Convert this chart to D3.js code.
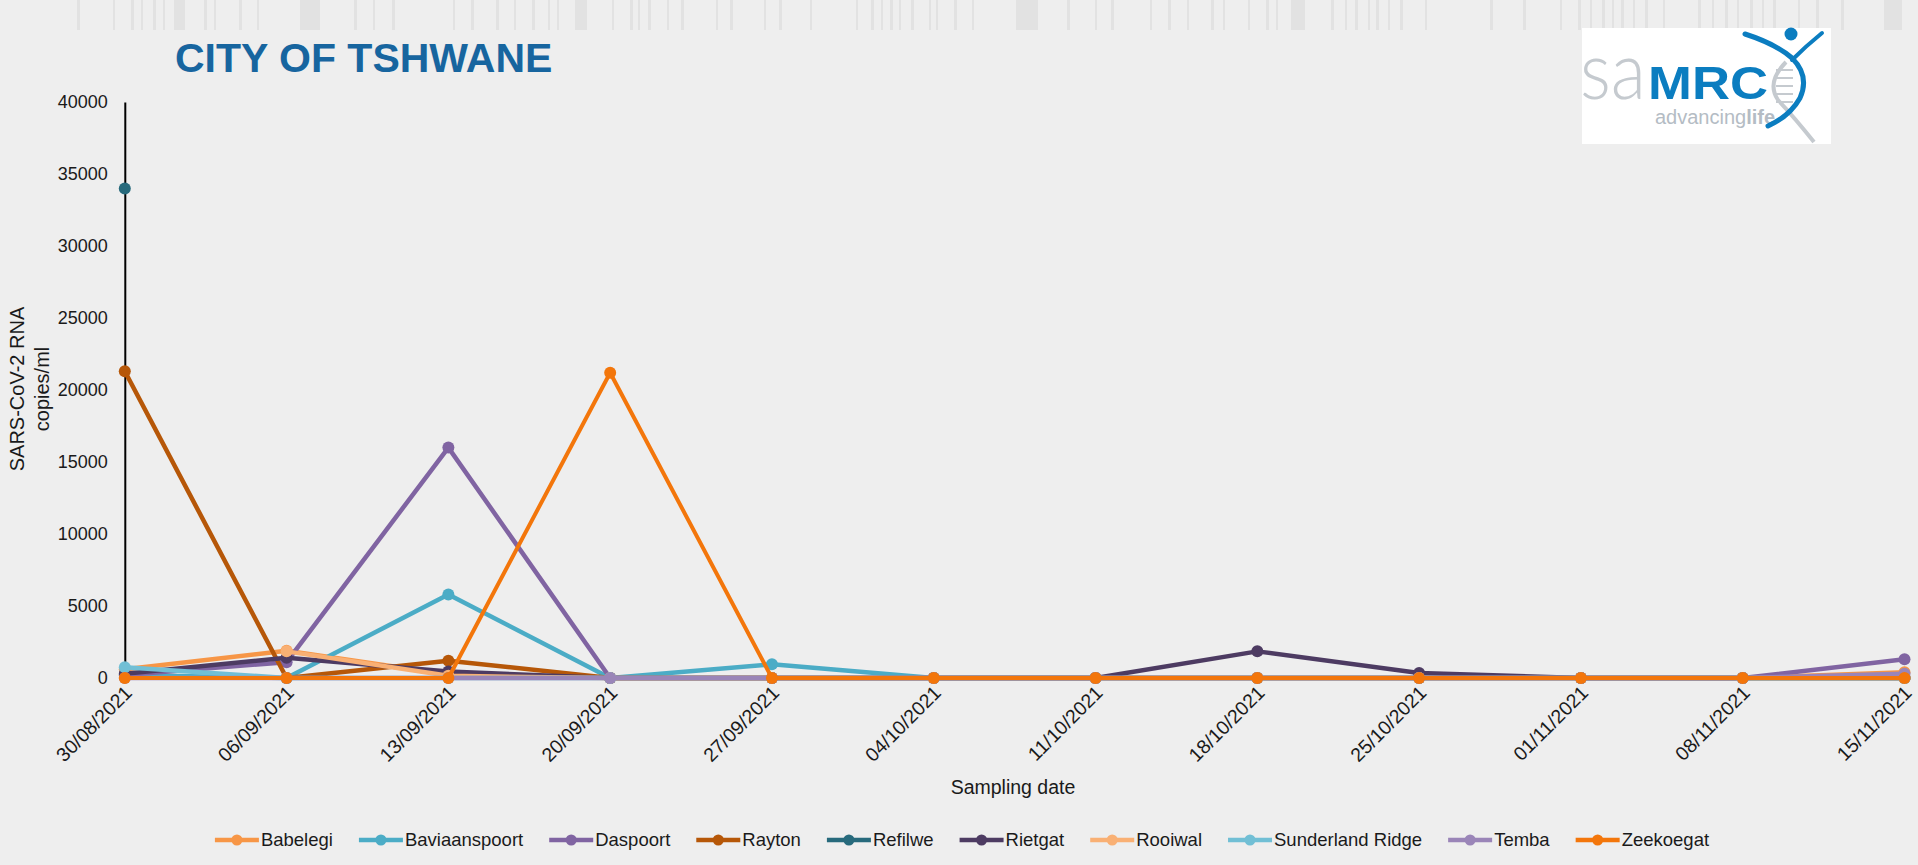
<!DOCTYPE html>
<html>
<head>
<meta charset="utf-8">
<script src="https://cdn.jsdelivr.net/npm/d3@7/dist/d3.min.js"></script>
<style>
  html, body { margin: 0; padding: 0; background: #eeeeee; }
  svg { display: block; font-family: "Liberation Sans", Arial, sans-serif; }
</style>
</head>
<body>
<svg id="chart" width="1918" height="865"></svg>
<script>
// ---------- DATA ----------
const dates = ["30/08/2021","06/09/2021","13/09/2021","20/09/2021","27/09/2021","04/10/2021",
               "11/10/2021","18/10/2021","25/10/2021","01/11/2021","08/11/2021","15/11/2021"];
const yTicks = [0, 5000, 10000, 15000, 20000, 25000, 30000, 35000, 40000];

const seriesNames = ["Babelegi","Baviaanspoort","Daspoort","Rayton","Refilwe","Rietgat",
                     "Rooiwal","Sunderland Ridge","Temba","Zeekoegat"];
const seriesColors = ["#f79646","#4bacc6","#8064a2","#b65708","#276a7c","#4d3b62",
                      "#f9b074","#71bfd5","#9a85b8","#f3760b"];

const babelegi      = [600, 1900, 250, 0, 0, 0, 0, 0, 0, 0, 0, 400];
const baviaanspoort = [200, 0, 5800, 0, 950, 0, 0, 0, 0, 0, 0, 0];
const daspoort      = [200, 1100, 16000, 0, 0, 0, 0, 0, 0, 0, 0, 1300];
const rayton        = [21300, 0, 1200, 0, 0, 0, 0, 0, 0, 0, 0, 0];
const refilwe       = [34000, null, null, null, null, null, null, null, null, null, null, null];
const rietgat       = [300, 1400, 450, 0, 0, 0, 0, 1850, 350, 0, 0, 0];
const rooiwal       = [null, 1850, 150, 0, 0, 0, 0, 0, 0, 0, 0, 0];
const sunderland    = [750, 0, 0, 0, 0, 0, 0, 0, 0, 0, 0, 0];
const temba         = [0, 0, 0, 0, 0, 0, 0, 0, 0, 0, 0, 300];
const zeekoegat     = [0, 0, 0, 21200, 0, 0, 0, 0, 0, 0, 0, 0];

const seriesValues = [babelegi, baviaanspoort, daspoort, rayton, refilwe, rietgat,
                      rooiwal, sunderland, temba, zeekoegat];

// decorative barcode strip at top (x, width)
const decorStripes = [[77,3],[113,2],[131,3],[141,2],[153,3],[163,2],[174,11],[204,3],[214,2],[239,3],[257,2],
  [300,20],[354,3],[373,2],[392,3],[453,2],[471,3],[496,3],[514,2],[532,3],[548,2],[557,2],[575,12],[612,2],[630,3],
  [638,2],[648,3],[667,2],[681,3],[716,2],[730,3],[764,2],[779,3],[810,2],[856,2],[871,3],[881,2],[890,3],[899,2],
  [911,3],[929,2],[936,2],[954,3],[972,2],[1016,22],[1067,3],[1095,2],[1111,3],[1150,2],[1168,3],[1187,2],[1211,3],
  [1223,2],[1248,2],[1266,3],[1276,2],[1291,14],[1331,3],[1345,2],[1355,3],[1368,2],[1376,3],[1388,2],[1400,3],
  [1425,2],[1490,3],[1523,3],[1560,2],[1578,3],[1590,2],[1602,3],[1612,2],[1621,3],[1633,2],[1645,3],[1663,2],
  [1698,3],[1712,2],[1725,3],[1737,2],[1750,3],[1762,2],[1773,3],[1798,2],[1816,3],[1841,3],[1884,18]];

// ---------- LAYOUT ----------
const W = 1918, H = 865;
const plot = { left: 124.8, right: 1904.5, top: 102, bottom: 678 };
const svg = d3.select("#chart");

svg.append("rect").attr("width", W).attr("height", H).attr("fill", "#eeeeee");

svg.append("g").selectAll("rect").data(decorStripes).join("rect")
  .attr("x", d => d[0]).attr("y", 0).attr("width", d => d[1]).attr("height", 30)
  .attr("fill", "#e2e2e2");

// title
svg.append("text").attr("x", 175).attr("y", 72)
  .attr("font-size", 41).attr("font-weight", "bold").attr("fill", "#17659f")
  .text("CITY OF TSHWANE");

// logo
const logo = svg.append("g");
logo.append("rect").attr("x", 1582).attr("y", 28).attr("width", 249).attr("height", 116).attr("fill", "#ffffff");
logo.append("text").attr("x", 1580).attr("y", 99).attr("font-family", "Lato").attr("font-weight", 300)
  .attr("font-size", 80).attr("fill", "#c5cacf").attr("textLength", 66).attr("lengthAdjust", "spacingAndGlyphs").text("sa");
logo.append("text").attr("x", 1648).attr("y", 99).attr("font-family", "Liberation Sans").attr("font-weight", "bold")
  .attr("font-size", 46).attr("fill", "#0b7dc0").attr("textLength", 120).attr("lengthAdjust", "spacingAndGlyphs").text("MRC");
logo.append("text").attr("x", 1655).attr("y", 124).attr("font-family", "Liberation Sans")
  .attr("font-size", 20).attr("fill", "#b4bcc4").text("advancing")
  .append("tspan").attr("font-weight", "bold").text("life");
// DNA figure
logo.append("path").attr("d", "M1786,62 Q1766,82 1778,100 Q1795,118 1814,142")
  .attr("fill", "none").attr("stroke", "#c5cacf").attr("stroke-width", 4);
[70, 78, 86, 94, 102].forEach(yy => {
  logo.append("line").attr("x1", 1776).attr("x2", 1793).attr("y1", yy).attr("y2", yy)
    .attr("stroke", "#c5cacf").attr("stroke-width", 2);
});
logo.append("path").attr("d", "M1745,34 Q1776,44 1792,58 Q1810,76 1800,98 Q1790,116 1768,126")
  .attr("fill", "none").attr("stroke", "#0b7dc0").attr("stroke-width", 5).attr("stroke-linecap", "round");
logo.append("path").attr("d", "M1822,33 Q1806,46 1792,60")
  .attr("fill", "none").attr("stroke", "#0b7dc0").attr("stroke-width", 4).attr("stroke-linecap", "round");
logo.append("circle").attr("cx", 1791).attr("cy", 34).attr("r", 6.5).attr("fill", "#0b7dc0");

// scales
const x = d3.scalePoint().domain(dates).range([plot.left, plot.right]).padding(0);
const y = d3.scaleLinear().domain([0, 40000]).range([plot.bottom, plot.top]);

// y axis
const yAxis = d3.axisLeft(y).tickValues(yTicks).tickSize(0).tickPadding(17).tickFormat(d3.format("d"));
const yg = svg.append("g").attr("transform", `translate(${plot.left},0)`).call(yAxis);
yg.select(".domain").attr("stroke", "#000").attr("stroke-width", 2);
yg.selectAll("text").attr("font-size", 18).attr("fill", "#1a1a1a")
  .attr("font-family", "Liberation Sans");

// x axis labels
const xAxis = d3.axisBottom(x).tickSize(0).tickPadding(0);
const xg = svg.append("g").attr("transform", `translate(0,${plot.bottom})`).call(xAxis);
xg.select(".domain").remove();
xg.selectAll("text")
  .attr("font-size", 19.5).attr("fill", "#1a1a1a").attr("font-family", "Liberation Sans")
  .attr("text-anchor", "end")
  .attr("dy", null).attr("y", 0)
  .attr("transform", "translate(8,16) rotate(-45)");

// axis titles
const yt = svg.append("text").attr("transform", "translate(0,389) rotate(-90)")
  .attr("font-size", 20).attr("fill", "#1a1a1a").attr("text-anchor", "middle");
yt.append("tspan").attr("x", 0).attr("y", 24).text("SARS-CoV-2 RNA");
yt.append("tspan").attr("x", 0).attr("y", 49).text("copies/ml");

svg.append("text").attr("x", 1013).attr("y", 794).attr("text-anchor", "middle")
  .attr("font-size", 19.5).attr("fill", "#1a1a1a").text("Sampling date");

// series
const line = d3.line().defined(d => d.v !== null).x(d => x(d.date)).y(d => y(d.v));
const seriesData = seriesNames.map((name, i) => ({
  name, color: seriesColors[i],
  pts: dates.map((date, j) => ({ date, v: seriesValues[i][j] }))
}));

const sg = svg.append("g");
seriesData.forEach(s => {
  const g = sg.append("g");
  g.append("path").datum(s.pts).attr("d", line)
    .attr("fill", "none").attr("stroke", s.color)
    .attr("stroke-width", s.name === "Zeekoegat" ? 4 : 4.5)
    .attr("stroke-linejoin", "round");
  g.selectAll("circle").data(s.pts.filter(d => d.v !== null)).join("circle")
    .attr("cx", d => x(d.date)).attr("cy", d => y(d.v)).attr("r", 6)
    .attr("fill", s.color);
});

// legend
const lg = svg.append("g");
let cx = 0;
seriesData.forEach(s => {
  const g = lg.append("g").attr("transform", `translate(${cx},0)`);
  g.append("line").attr("x1", 0).attr("x2", 44).attr("y1", 0).attr("y2", 0)
    .attr("stroke", s.color).attr("stroke-width", 4.5);
  g.append("circle").attr("cx", 22).attr("cy", 0).attr("r", 5.5).attr("fill", s.color);
  const t = g.append("text").attr("x", 46).attr("y", 0).attr("dy", "0.35em")
    .attr("font-size", 18.5).attr("fill", "#1a1a1a").text(s.name);
  const w = t.node().getComputedTextLength();
  cx += 46 + w + 26;
});
const totalW = cx - 26;
lg.attr("transform", `translate(${962 - totalW / 2},840)`);
</script>
</body>
</html>
